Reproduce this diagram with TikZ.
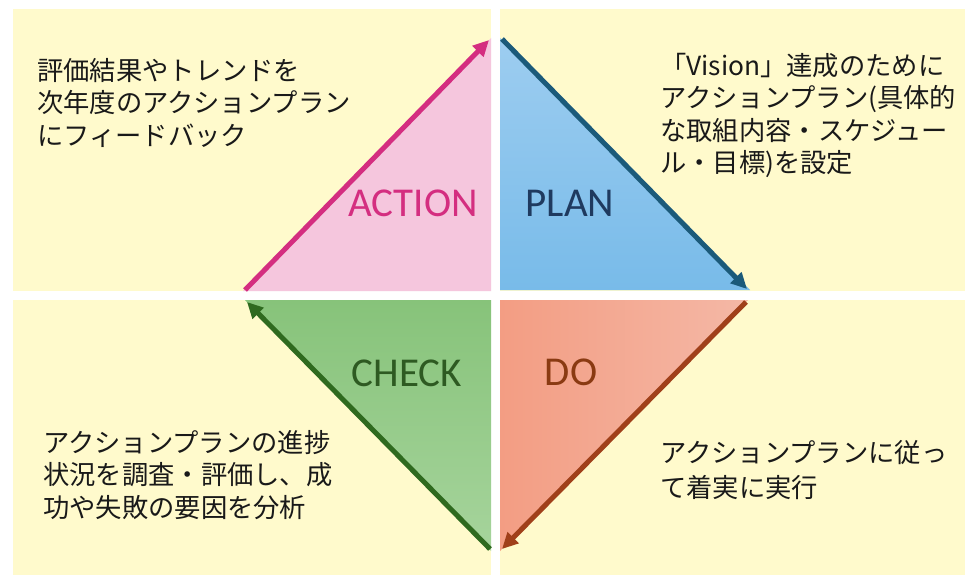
\documentclass[tikz,border=0pt]{standalone}
\usepackage{fontspec}
\newfontfamily\jp{Noto Sans CJK JP}
\newfontfamily\lab{Carlito}
\usetikzlibrary{arrows.meta}
\definecolor{quad}{HTML}{FFFACC}
\definecolor{pinkfill}{HTML}{F5C6DD}
\definecolor{pinkline}{HTML}{D42E80}
\definecolor{bluetop}{HTML}{9DCDF0}
\definecolor{bluebot}{HTML}{78BBE9}
\definecolor{blueline}{HTML}{1B5A7A}
\definecolor{bluetext}{HTML}{1F3A5F}
\definecolor{salleft}{HTML}{F39D83}
\definecolor{salright}{HTML}{F4B8A6}
\definecolor{brownline}{HTML}{A0401A}
\definecolor{browntext}{HTML}{8A3A12}
\definecolor{greentop}{HTML}{87C37A}
\definecolor{greenbot}{HTML}{A6D49C}
\definecolor{greenline}{HTML}{2F6A1F}
\definecolor{greentext}{HTML}{2E5A22}
\tikzset{
  cyclearrow/.style={line width=5pt,-{Triangle[length=16pt,width=15pt]}},
  desc/.style={font={\jp\fontsize{26.3pt}{32.5pt}\selectfont},align=left,anchor=north west,inner sep=0pt,text=black!90},
  phase/.style={font={\lab\fontsize{41pt}{41pt}\selectfont},inner sep=0pt}
}
\begin{document}
\begin{tikzpicture}[x=1pt,y=-1pt]
\useasboundingbox (0,0) rectangle (965,575);
\fill[white] (0,0) rectangle (965,575);
% quadrants
\fill[quad] (13,9) rectangle (491,291);
\fill[quad] (500,9) rectangle (965,291);
\fill[quad] (13,300) rectangle (491,575);
\fill[quad] (500,300) rectangle (965,575);
% corner coordinates
\coordinate (aL) at (243,291);
\coordinate (aR) at (491,291);
\coordinate (aT) at (491,38);
\coordinate (pT) at (500,38);
\coordinate (pL) at (500,290);
\coordinate (pR) at (750,290);
\coordinate (dL) at (500,300);
\coordinate (dR) at (748,300);
\coordinate (dB) at (500,551);
\coordinate (cR) at (491,300);
\coordinate (cL) at (245,300);
\coordinate (cB) at (491,551);
% triangles
\fill[pinkfill] (aL) -- (aR) -- (aT) -- cycle;
\shade[top color=bluetop,bottom color=bluebot] (pT) -- (pL) -- (pR) -- cycle;
\shade[left color=salleft,right color=salright] (dL) -- (dR) -- (dB) -- cycle;
\shade[top color=greentop,bottom color=greenbot] (cR) -- (cL) -- (cB) -- cycle;
% arrow end points
\coordinate (a1) at (245,290);
\coordinate (a2) at (489,40);
\coordinate (p1) at (502,39);
\coordinate (p2) at (747,289);
\coordinate (d1) at (746,302);
\coordinate (d2) at (502,549);
\coordinate (c1) at (490,549);
\coordinate (c2) at (247,302);
\draw[cyclearrow,pinkline] (a1) -- (a2);
\draw[cyclearrow,blueline] (p1) -- (p2);
\draw[cyclearrow,brownline] (d1) -- (d2);
\draw[cyclearrow,greenline] (c1) -- (c2);
% phase labels
\node[phase,text=pinkline] (action) at (413,203) {ACTION};
\node[phase,text=bluetext] (plan) at (570,203) {PLAN};
\node[phase,text=browntext] (do) at (571,372) {DO};
\node[phase,text=greentext] (check) at (407,373) {CHECK};
% descriptions
\node[desc] (tl) at (37,58) {評価結果やトレンドを\\次年度のアクションプラン\\にフィードバック};
\node[desc] (tr) at (660,53) {「Vision」達成のために\\アクションプラン(具体的\\な取組内容・スケジュー\\ル・目標)を設定};
\node[desc] (bl) at (43,430) {アクションプランの進捗\\状況を調査・評価し、成\\功や失敗の要因を分析};
\node[desc,font={\jp\fontsize{26.3pt}{35pt}\selectfont}] (br) at (660,440) {アクションプランに従っ\\て着実に実行};
\end{tikzpicture}
\end{document}
